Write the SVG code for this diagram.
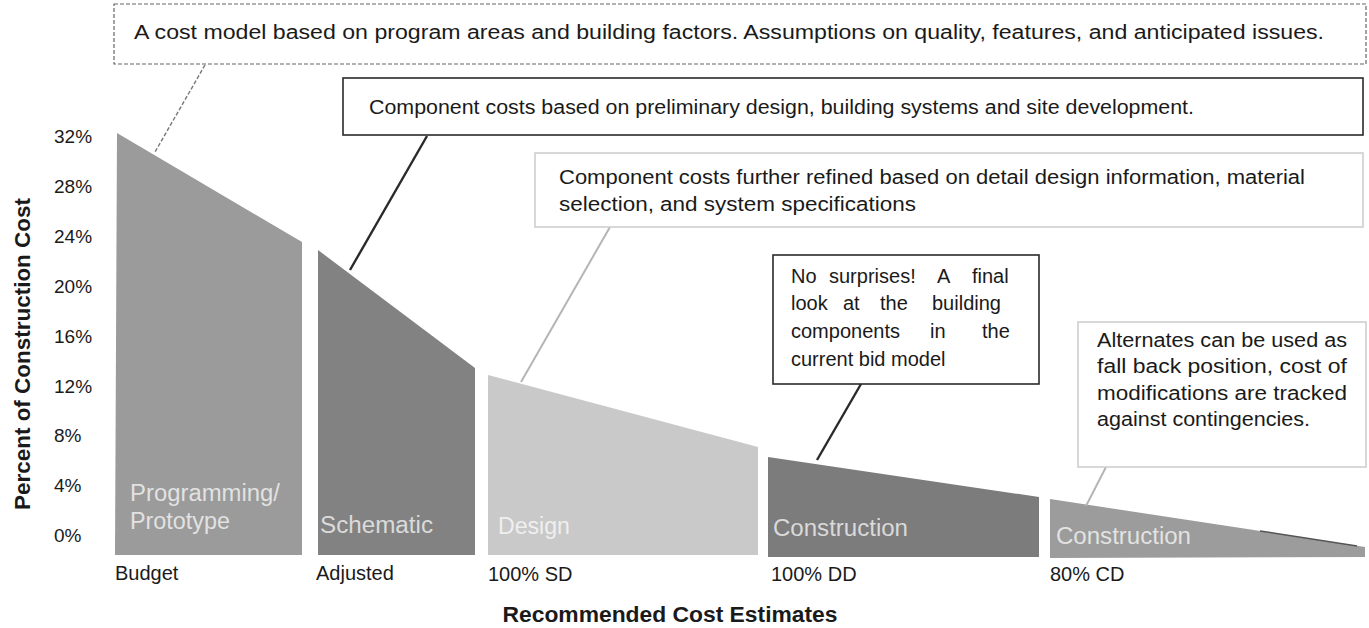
<svg xmlns="http://www.w3.org/2000/svg" width="1369" height="628" viewBox="0 0 1369 628">
<style>
text{font-family:"Liberation Sans",Arial,sans-serif;fill:#1a1a1a}
.t{font-size:20px}
.ax{font-size:19px}
.lb{font-size:20px}
.sl{font-size:23px;fill:#ffffff;fill-opacity:0.72}
.bold{font-weight:bold}
.boxd{fill:#fff;stroke:#666;stroke-width:1.2;stroke-dasharray:4 2}
.boxk{fill:#fff;stroke:#2a2a2a;stroke-width:1.6}
.boxl{fill:#fff;stroke:#cfcfcf;stroke-width:1.6}
.c-dash{stroke:#777;stroke-width:1.4;stroke-dasharray:4 2;fill:none}
.c-dark{stroke:#2a2a2a;stroke-width:2.4;fill:none}
.c-light{stroke:#b5b5b5;stroke-width:2;fill:none}
</style>
<rect width="1369" height="628" fill="#ffffff"/>

<g id="y-axis">
<text class="ax" x="54" y="143">32%</text>
<text class="ax" x="54" y="193">28%</text>
<text class="ax" x="54" y="243">24%</text>
<text class="ax" x="54" y="293">20%</text>
<text class="ax" x="54" y="343">16%</text>
<text class="ax" x="54" y="393">12%</text>
<text class="ax" x="54" y="442">8%</text>
<text class="ax" x="54" y="492">4%</text>
<text class="ax" x="54" y="542">0%</text>
<text class="bold" font-size="22" transform="translate(30,354) rotate(-90)" text-anchor="middle" textLength="312" lengthAdjust="spacingAndGlyphs">Percent of Construction Cost</text>
</g>

<g id="stage-budget">
<polygon points="117,133 302,242 302,555 115,555" fill="#9b9b9b"/>
<text class="sl" x="130" y="501" textLength="150" lengthAdjust="spacingAndGlyphs">Programming/</text>
<text class="sl" x="130" y="529" textLength="100" lengthAdjust="spacingAndGlyphs">Prototype</text>
<text class="lb" x="115" y="580">Budget</text>
</g>

<g id="stage-adjusted">
<polygon points="318,250 475,368 475,555 318,555" fill="#828282"/>
<text class="sl" x="320" y="533" textLength="113" lengthAdjust="spacingAndGlyphs">Schematic</text>
<text class="lb" x="316" y="580">Adjusted</text>
</g>

<g id="stage-sd">
<polygon points="488,375 758,447 758,555 488,555" fill="#c9c9c9"/>
<text class="sl" x="498" y="534" textLength="72" lengthAdjust="spacingAndGlyphs">Design</text>
<text class="lb" x="488" y="581">100% SD</text>
</g>

<g id="stage-dd">
<polygon points="768,457 1039,497 1039,557 768,557" fill="#7c7c7c"/>
<text class="sl" x="773" y="536" textLength="135" lengthAdjust="spacingAndGlyphs">Construction</text>
<text class="lb" x="771" y="581">100% DD</text>
</g>

<g id="stage-cd">
<polygon points="1050,499 1365,547 1365,557 1050,558" fill="#9c9c9c"/>
<line x1="1260" y1="531" x2="1357" y2="546" stroke="#555" stroke-width="1.5"/>
<text class="sl" x="1056" y="544" textLength="135" lengthAdjust="spacingAndGlyphs">Construction</text>
<text class="lb" x="1050" y="581">80% CD</text>
</g>

<g id="x-axis-title">
<text class="bold" font-size="22" x="670" y="622" text-anchor="middle" textLength="335" lengthAdjust="spacingAndGlyphs">Recommended Cost Estimates</text>
</g>

<g id="connectors">
<line class="c-dash" x1="205" y1="65" x2="155" y2="152"/>
<line class="c-dark" x1="427" y1="136" x2="350" y2="270"/>
<line class="c-light" x1="610" y1="227" x2="521" y2="382"/>
<line class="c-dark" x1="861" y1="384" x2="817" y2="460"/>
<line class="c-light" x1="1106" y1="467" x2="1086" y2="506"/>
</g>

<g id="note-budget">
<rect class="boxd" x="114" y="4" width="1252" height="60"/>
<text class="t" x="134" y="39" textLength="1190" lengthAdjust="spacingAndGlyphs">A cost model based on program areas and building factors. Assumptions on quality, features, and anticipated issues.</text>
</g>

<g id="note-adjusted">
<rect class="boxk" x="343" y="78" width="1020" height="57"/>
<text class="t" x="369" y="114" textLength="825" lengthAdjust="spacingAndGlyphs">Component costs based on preliminary design, building systems and site development.</text>
</g>

<g id="note-sd">
<rect class="boxl" x="535" y="153" width="828" height="74"/>
<text class="t" x="559" y="184" textLength="746" lengthAdjust="spacingAndGlyphs">Component costs further refined based on detail design information, material</text>
<text class="t" x="559" y="211" textLength="357" lengthAdjust="spacingAndGlyphs">selection, and system specifications</text>
</g>

<g id="note-dd">
<rect class="boxk" x="773" y="255" width="266" height="129"/>
<text class="t" y="283"><tspan x="791">No</tspan><tspan x="829">surprises!</tspan><tspan x="937">A</tspan><tspan x="972">final</tspan></text>
<text class="t" y="310"><tspan x="791">look</tspan><tspan x="843">at</tspan><tspan x="880">the</tspan><tspan x="932">building</tspan></text>
<text class="t" y="338"><tspan x="791">components</tspan><tspan x="930">in</tspan><tspan x="982">the</tspan></text>
<text class="t" x="791" y="366">current bid model</text>
</g>

<g id="note-cd">
<rect class="boxl" x="1078" y="322" width="288" height="145"/>
<text class="t" x="1097" y="347" textLength="250" lengthAdjust="spacingAndGlyphs">Alternates can be used as</text>
<text class="t" x="1097" y="373" textLength="250" lengthAdjust="spacingAndGlyphs">fall back position, cost of</text>
<text class="t" x="1097" y="400" textLength="250" lengthAdjust="spacingAndGlyphs">modifications are tracked</text>
<text class="t" x="1097" y="426" textLength="213" lengthAdjust="spacingAndGlyphs">against contingencies.</text>
</g>
</svg>
